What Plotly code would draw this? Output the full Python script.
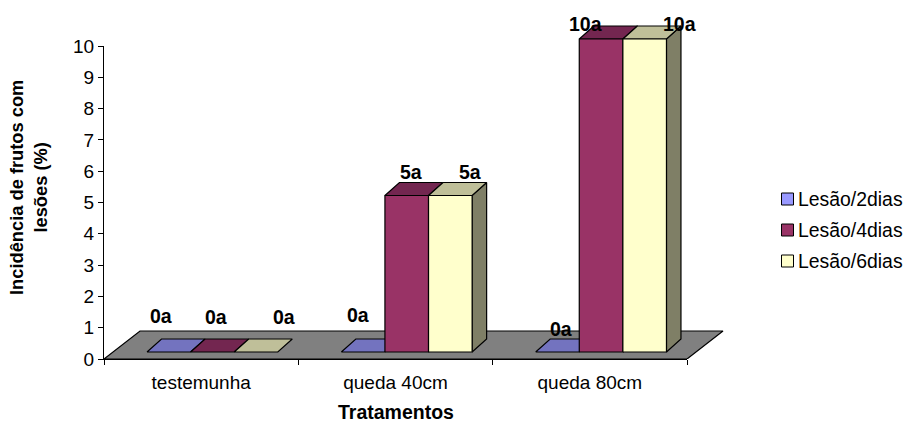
import plotly.graph_objects as go

# Data
categories = ["testemunha", "queda 40cm", "queda 80cm"]
series_names = ["Lesão/2dias", "Lesão/4dias", "Lesão/6dias"]
lesao_2dias = [0, 0, 0]
lesao_4dias = [0, 5, 10]
lesao_6dias = [0, 5, 10]
series_values = [lesao_2dias, lesao_4dias, lesao_6dias]
y_ticks = list(range(0, 11))

# Page geometry in pixels: the axes span LEFT-RIGHT and TOP-BOTTOM, while the
# drawing layer reaches OUTER_RIGHT and OUTER_TOP so the 3D faces are not clipped
W, H = 906, 423
LEFT, RIGHT, TOP, BOTTOM = 104, 687, 46, 359
OUTER_RIGHT, OUTER_TOP = 900, 4
PX_PER_CAT = (RIGHT - LEFT) / len(categories)
PX_PER_UNIT = (BOTTOM - TOP) / (y_ticks[-1] - y_ticks[0])


def dx(px):
    return px / PX_PER_CAT


def dy(px):
    return px / PX_PER_UNIT


# Oblique projection used for the pseudo-3D look
FLOOR_DEPTH = (36, 28)
BAR_START = (43, 7)
BAR_DEPTH = (14.5, 13)
BAR_WIDTH = 43.6

# Face colours per series: front, top, side
FRONT = ["#9999FF", "#993366", "#FFFFCC"]
TOPS = ["#7373BF", "#732650", "#BFBF99"]
SIDES = ["#4D4D80", "#4D1A33", "#7F7F66"]
EDGE = "#000000"
FONT = "Liberation Sans, Arial, sans-serif"

# Label nudges in pixels from the middle of each bar's front top edge
LABEL_SHIFT = {
    (0, 0): (-8, 36), (0, 1): (4, 35), (0, 2): (28, 35),
    (1, 0): (-5, 37), (1, 1): (4, 24), (1, 2): (20, 24),
    (2, 0): (4, 23), (2, 1): (-16, 15), (2, 2): (35, 15),
}

fig = go.Figure()

x_lo, x_hi = -0.5, len(categories) - 0.5

# Empty trace keeps the visible axis pair in the figure
fig.add_trace(go.Scatter(x=[], y=[], xaxis="x", yaxis="y", showlegend=False, hoverinfo="skip"))


def face(xs, ys, color):
    fig.add_trace(go.Scatter(
        x=xs + xs[:1], y=ys + ys[:1], mode="lines", fill="toself",
        fillcolor=color, line=dict(color=EDGE, width=1.2),
        xaxis="x2", yaxis="y2", showlegend=False, hoverinfo="skip",
    ))


# Floor of the chart
fx, fy = dx(FLOOR_DEPTH[0]), dy(FLOOR_DEPTH[1])
face([x_lo, x_hi, x_hi + fx, x_lo + fx], [0, 0, fy, fy], "#808080")

# Bars, left to right so that each one covers its neighbour's hidden faces
annotations = []
bx, by = dx(BAR_DEPTH[0]), dy(BAR_DEPTH[1])
for k in range(len(categories)):
    for j, values in enumerate(series_values):
        value = values[k]
        x0 = k - 0.5 + dx(BAR_START[0]) + dx(BAR_WIDTH) * j
        x1 = x0 + dx(BAR_WIDTH)
        y0 = dy(BAR_START[1])
        y1 = y0 + value
        if value > 0:
            face([x1, x1 + bx, x1 + bx, x1], [y0, y0 + by, y1 + by, y1], SIDES[j])
        face([x0, x1, x1 + bx, x0 + bx], [y1, y1, y1 + by, y1 + by], TOPS[j])
        if value > 0:
            face([x0, x1, x1, x0], [y0, y0, y1, y1], FRONT[j])
        shift = LABEL_SHIFT[(k, j)]
        annotations.append(dict(
            x=(x0 + x1) / 2, y=y1, xref="x2", yref="y2",
            text=f"{value}a", showarrow=False, xshift=shift[0], yshift=shift[1],
            font=dict(family=FONT, size=19.5, color="#000000", weight="bold"),
        ))


def paper_x(px):
    return (px - LEFT) / (OUTER_RIGHT - LEFT)


def paper_y(px):
    return (BOTTOM - px) / (BOTTOM - OUTER_TOP)


# Axis titles
annotations.append(dict(
    x=paper_x(28), y=paper_y(188), xref="paper", yref="paper",
    xanchor="center", yanchor="middle",
    text="<b>Incidência de frutos com<br>lesões (%)</b>", textangle=-90, showarrow=False,
    font=dict(family=FONT, size=18.3, color="#000000"), align="center",
))
annotations.append(dict(
    x=paper_x(396), y=paper_y(412), xref="paper", yref="paper",
    xanchor="center", yanchor="middle", borderpad=0,
    text="<b>Tratamentos</b>", showarrow=False,
    font=dict(family=FONT, size=19.5, color="#000000"),
))

# Legend
shapes = []
for i, (name, color) in enumerate(zip(series_names, FRONT)):
    cy = 199 + i * 31
    shapes.append(dict(
        type="rect", xref="paper", yref="paper",
        x0=paper_x(781.5), x1=paper_x(793.5), y0=paper_y(cy + 6), y1=paper_y(cy - 6),
        fillcolor=color, line=dict(color=EDGE, width=1),
    ))
    annotations.append(dict(
        x=paper_x(796), y=paper_y(cy), xref="paper", yref="paper",
        text=name, showarrow=False, xanchor="left", yanchor="middle",
        font=dict(family=FONT, size=19.4, color="#000000"),
    ))

fig.update_layout(
    width=W, height=H,
    margin=dict(l=LEFT, r=W - OUTER_RIGHT, t=OUTER_TOP, b=H - BOTTOM, autoexpand=False),
    paper_bgcolor="#FFFFFF", plot_bgcolor="#FFFFFF",
    annotations=annotations, shapes=shapes, showlegend=False,
    font=dict(family=FONT, color="#000000"),
    xaxis=dict(
        domain=[0, paper_x(RIGHT)],
        range=[x_lo, x_hi], tickmode="array",
        tickvals=list(range(len(categories))), ticktext=categories,
        ticks="", showgrid=False, zeroline=False,
        showline=True, linecolor="#000000", linewidth=1,
        tickfont=dict(family=FONT, size=19), ticklabelstandoff=6,
        minor=dict(tickmode="array", tickvals=[x_lo + i for i in range(len(categories) + 1)],
                   ticks="outside", ticklen=5, tickcolor="#000000", tickwidth=1, showgrid=False),
    ),
    yaxis=dict(
        domain=[0, paper_y(TOP)],
        range=[y_ticks[0], y_ticks[-1]], tickmode="array", tickvals=y_ticks,
        ticks="outside", ticklen=5, tickcolor="#000000", tickwidth=1,
        showgrid=False, zeroline=False,
        showline=True, linecolor="#000000", linewidth=1,
        tickfont=dict(family=FONT, size=19),
    ),
    xaxis2=dict(
        domain=[0, 1], anchor="y2", visible=False,
        range=[x_lo, x_lo + dx(OUTER_RIGHT - LEFT)],
    ),
    yaxis2=dict(
        domain=[0, 1], anchor="x2", visible=False,
        range=[0, dy(BOTTOM - OUTER_TOP)],
    ),
)

fig.write_html("out.html", config=dict(displayModeBar=False))
